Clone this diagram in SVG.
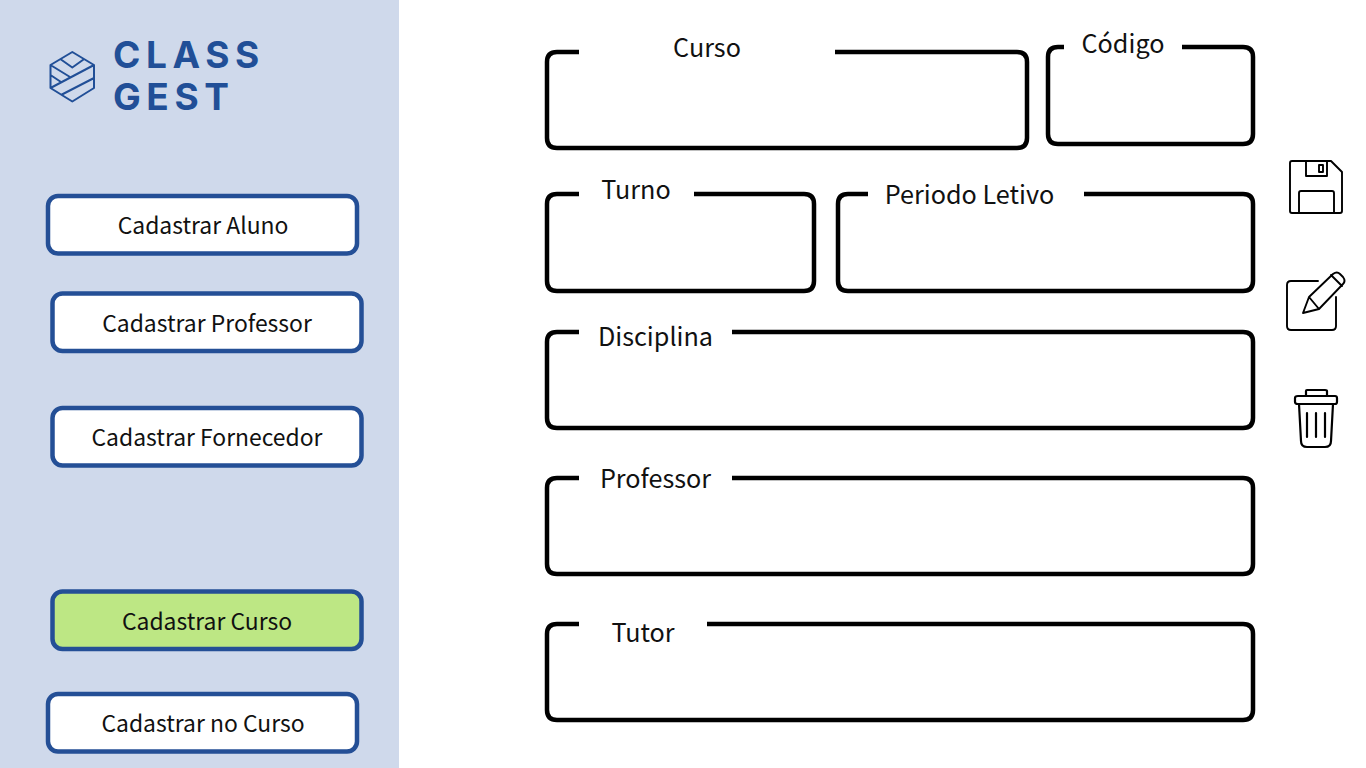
<svg xmlns="http://www.w3.org/2000/svg" width="1366" height="768" viewBox="0 0 1366 768">
<style>
.lbl{font-family:"Noto Sans CJK SC","Noto Sans",sans-serif;font-size:25.2px;fill:#111;text-anchor:middle}
.bt{font-size:22.9px}
.btn{fill:#fff;stroke:#244f96;stroke-width:4.5}
.frame{fill:none;stroke:#000;stroke-width:4.500;stroke-linecap:butt}
.logo{font-family:Inter,"Liberation Sans",sans-serif;font-weight:700;font-size:37px;letter-spacing:5.6px;fill:#214f97}
.ln{fill:none;stroke:#214f97;stroke-width:2;stroke-linejoin:round}
.ic{fill:none;stroke:#000;stroke-width:1.9;stroke-linejoin:round;stroke-linecap:round}
.ic2{fill:none;stroke:#000;stroke-width:2.2;stroke-linejoin:round;stroke-linecap:round}
</style>
<rect width="1366" height="768" fill="#fff"/>
<rect id="sidebar" width="399" height="768" fill="#cfd9eb"/>
<g id="logo">
<path class="ln" d="M72.300 52L94 65V88L72.300 101.500L50.500 88V65ZM61 59.500L72.300 67.500L83.500 59.500M50.500 65L70 77M94 65L50.500 88M94 78L61 95M50.500 75L61 82"/>
<text class="logo" x="113" y="68">CLASS</text>
<text class="logo" x="113" y="110">GEST</text>
</g>
<g id="btn-aluno"><rect class="btn" x="48" y="196" width="309" height="57.500" rx="10"/><text class="lbl bt" x="203" y="234">Cadastrar Aluno</text></g>
<g id="btn-professor"><rect class="btn" x="52.500" y="293.500" width="309" height="57.500" rx="10"/><text class="lbl bt" x="207" y="332">Cadastrar Professor</text></g>
<g id="btn-fornecedor"><rect class="btn" x="52.500" y="408" width="309" height="57.500" rx="10"/><text class="lbl bt" x="207" y="446">Cadastrar Fornecedor</text></g>
<g id="btn-curso"><rect class="btn" style="fill:#bde784" x="52.500" y="591.500" width="309" height="57.500" rx="10"/><text class="lbl bt" x="207" y="630">Cadastrar Curso</text></g>
<g id="btn-nocurso"><rect class="btn" x="48" y="694" width="309" height="57.500" rx="10"/><text class="lbl bt" x="203" y="732">Cadastrar no Curso</text></g>
<g id="field-curso"><path class="frame" d="M579 52H557Q547 52 547 62V138Q547 148 557 148H1017Q1027 148 1027 138V62Q1027 52 1017 52H835"/><text class="lbl" x="707" y="57">Curso</text></g>
<g id="field-codigo"><path class="frame" d="M1182 47H1243Q1253 47 1253 57V134Q1253 144 1243 144H1058Q1048 144 1048 134V57Q1048 47 1058 47H1064"/><text class="lbl" x="1123" y="52.500">Código</text></g>
<g id="field-turno"><path class="frame" d="M579 194H557Q547 194 547 204V281Q547 291 557 291H804Q814 291 814 281V204Q814 194 804 194H694"/><text class="lbl" x="636" y="199">Turno</text></g>
<g id="field-periodo"><path class="frame" d="M868 194H848Q838 194 838 204V281Q838 291 848 291H1243Q1253 291 1253 281V204Q1253 194 1243 194H1084"/><text class="lbl" x="969.500" y="204">Periodo Letivo</text></g>
<g id="field-disciplina"><path class="frame" d="M579 332H557Q547 332 547 342V418Q547 428 557 428H1243Q1253 428 1253 418V342Q1253 332 1243 332H732"/><text class="lbl" x="655.500" y="346">Disciplina</text></g>
<g id="field-professor"><path class="frame" d="M579 478H557Q547 478 547 488V564Q547 574 557 574H1243Q1253 574 1253 564V488Q1253 478 1243 478H732"/><text class="lbl" x="655.500" y="488">Professor</text></g>
<g id="field-tutor"><path class="frame" d="M579 624H557Q547 624 547 634V710Q547 720 557 720H1243Q1253 720 1253 710V634Q1253 624 1243 624H707"/><text class="lbl" x="643" y="642">Tutor</text></g>
<g id="icon-save"><path class="ic" d="M1292 161H1331L1342 172V211Q1342 213 1340 213H1292Q1290 213 1290 211V163Q1290 161 1292 161ZM1306 161V176H1327V161M1319 165H1323V172H1319ZM1299 213V193Q1299 191 1301 191H1332Q1334 191 1334 193V213"/></g>
<g id="icon-edit"><path class="ic" d="M1318 281H1291Q1287 281 1287 285V326Q1287 330 1291 330H1332Q1336 330 1336 326V297"/><path class="ic" d="M1303 313L1309 297L1333 274Q1337 271 1340 274L1343 277Q1346 281 1343 284L1319 309ZM1309 297L1319 309M1331 275L1342 286"/></g>
<g id="icon-trash"><path class="ic2" d="M1298 404H1335Q1337 404 1337 402V398Q1337 396 1335 396H1298Q1295 396 1295 398V402Q1295 404 1298 404ZM1306 396V391Q1306 390 1307 390H1325Q1327 390 1327 391V396M1299 404L1301 441Q1301 447 1307 447H1325Q1331 447 1331 441L1333 404M1307 413V437M1316 413V437M1325 413V437"/></g>
</svg>
